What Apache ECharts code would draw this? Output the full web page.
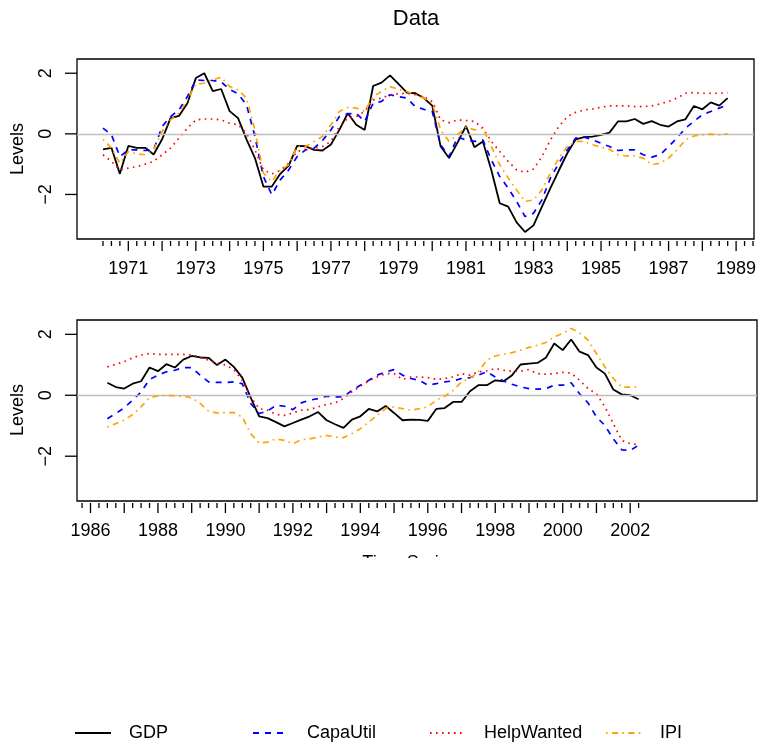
<!DOCTYPE html>
<html>
<head>
<meta charset="utf-8">
<script src="https://cdn.jsdelivr.net/npm/echarts@6/dist/echarts.min.js"></script>
<style>
  html, body { margin: 0; padding: 0; background: #fff; }
  #chart { width: 760px; height: 748px; }
</style>
</head>
<body>
<div id="chart"></div>
<script>
// Quarterly standardized series, two sub-periods
const step = 0.25;
const topStart = 1970.25;     // first quarter of the upper panel
const bottomStart = 1986.5;   // first quarter of the lower panel

const topGDP = [
  -0.51, -0.46, -1.32,
  -0.40, -0.46, -0.46, -0.68,
  -0.18, 0.52, 0.59, 1.01,
  1.84, 2.00, 1.41, 1.48,
  0.75, 0.52, -0.18, -0.80,
  -1.74, -1.74, -1.32, -1.05,
  -0.40, -0.41, -0.53, -0.55,
  -0.35, 0.13, 0.68, 0.30,
  0.13, 1.58, 1.69, 1.93,
  1.65, 1.36, 1.34, 1.18,
  0.93, -0.42, -0.80, -0.29,
  0.26, -0.44, -0.25, -1.19,
  -2.29, -2.40, -2.92, -3.24,
  -3.02, -2.40, -1.79, -1.21,
  -0.64, -0.18, -0.11, -0.09,
  -0.03, 0.04, 0.41, 0.41,
  0.49, 0.33, 0.42, 0.30,
  0.24, 0.41, 0.48, 0.92,
  0.81, 1.04, 0.93, 1.18
];
const topCapaUtil = [
  0.19, -0.03, -0.75,
  -0.53, -0.53, -0.55, -0.53,
  0.24, 0.57, 0.79, 1.23,
  1.78, 1.76, 1.76, 1.72,
  1.47, 1.32, 0.96, -0.09,
  -1.41, -2.01, -1.52, -1.19,
  -0.75, -0.53, -0.47, -0.22,
  0.13, 0.57, 0.66, 0.68,
  0.41, 1.01, 1.07, 1.29,
  1.23, 1.18, 0.90, 0.81,
  0.74, -0.36, -0.75, -0.11,
  -0.20, -0.25, -0.20, -0.86,
  -1.41, -1.79, -2.23, -2.73,
  -2.62, -2.18, -1.46, -0.97,
  -0.53, -0.14, -0.11, -0.20,
  -0.31, -0.42, -0.55, -0.53,
  -0.53, -0.69, -0.77, -0.69,
  -0.42, -0.14, 0.19, 0.41,
  0.63, 0.74, 0.85, 0.96
];
const topHelpWanted = [
  -0.69, -0.91, -1.19,
  -1.13, -1.08, -1.00, -0.91,
  -0.69, -0.47, -0.14, 0.19,
  0.46, 0.49, 0.49, 0.46,
  0.35, 0.30, 0.02, -0.53,
  -1.19, -1.32, -1.21, -0.97,
  -0.58, -0.51, -0.47, -0.42,
  -0.25, 0.24, 0.52, 0.57,
  0.74, 1.12, 1.18, 1.29,
  1.32, 1.34, 1.29, 1.23,
  1.07, 0.46, 0.37, 0.46,
  0.44, 0.41, 0.19, -0.25,
  -0.58, -0.91, -1.19, -1.27,
  -1.16, -0.75, -0.20, 0.24,
  0.57, 0.71, 0.79, 0.82,
  0.88, 0.92, 0.92, 0.92,
  0.90, 0.90, 0.92, 0.99,
  1.07, 1.18, 1.34, 1.36,
  1.34, 1.34, 1.34, 1.36
];
const topIPI = [
  -0.18, -0.47, -0.97,
  -0.58, -0.66, -0.69, -0.53,
  0.08, 0.46, 0.68, 1.12,
  1.65, 1.67, 1.78, 1.87,
  1.56, 1.45, 1.18, 0.13,
  -1.30, -1.57, -1.19, -1.02,
  -0.42, -0.42, -0.25, -0.09,
  0.30, 0.74, 0.87, 0.85,
  0.74, 1.23, 1.40, 1.56,
  1.47, 1.40, 1.29, 1.18,
  1.01, 0.13, -0.25, -0.03,
  0.22, 0.13, 0.19, -0.42,
  -1.02, -1.46, -1.85, -2.23,
  -2.18, -1.85, -1.30, -0.80,
  -0.42, -0.25, -0.25, -0.36,
  -0.44, -0.51, -0.69, -0.73,
  -0.73, -0.80, -1.02, -0.97,
  -0.80, -0.53, -0.20, -0.07,
  -0.03, -0.01, -0.03, 0.00
];

const bottomGDP = [
  0.41, 0.27,
  0.22, 0.38, 0.46, 0.91,
  0.79, 1.02, 0.91, 1.17,
  1.29, 1.24, 1.23, 0.99,
  1.17, 0.93, 0.58, -0.08,
  -0.69, -0.75, -0.88, -1.02,
  -0.91, -0.80, -0.69, -0.55,
  -0.82, -0.95, -1.07, -0.80,
  -0.69, -0.45, -0.53, -0.35,
  -0.58, -0.82, -0.80, -0.81,
  -0.84, -0.45, -0.42, -0.22,
  -0.22, 0.13, 0.33, 0.33,
  0.49, 0.46, 0.66, 1.01,
  1.04, 1.06, 1.23, 1.70,
  1.48, 1.83, 1.43, 1.32,
  0.91, 0.71, 0.19, 0.03,
  0.00, -0.13
];
const bottomCapaUtil = [
  -0.77, -0.60,
  -0.41, -0.16, 0.11, 0.52,
  0.66, 0.77, 0.82, 0.91,
  0.91, 0.66, 0.44, 0.42,
  0.42, 0.44, 0.38, -0.27,
  -0.60, -0.52, -0.33, -0.36,
  -0.47, -0.25, -0.16, -0.11,
  -0.03, -0.05, -0.05, 0.16,
  0.33, 0.49, 0.66, 0.77,
  0.84, 0.66, 0.55, 0.49,
  0.33, 0.38, 0.44, 0.47,
  0.55, 0.58, 0.66, 0.77,
  0.60, 0.47, 0.36, 0.27,
  0.22, 0.20, 0.22, 0.33,
  0.33, 0.41, 0.05, -0.25,
  -0.71, -0.99, -1.43, -1.79,
  -1.81, -1.64
];
const bottomHelpWanted = [
  0.93, 1.02,
  1.10, 1.23, 1.32, 1.37,
  1.34, 1.34, 1.34, 1.34,
  1.32, 1.26, 1.15, 1.06,
  0.99, 0.84, 0.49, -0.05,
  -0.44, -0.49, -0.63, -0.66,
  -0.58, -0.49, -0.47, -0.38,
  -0.30, -0.25, -0.11, 0.11,
  0.30, 0.47, 0.60, 0.71,
  0.71, 0.52, 0.60, 0.60,
  0.58, 0.52, 0.55, 0.60,
  0.71, 0.66, 0.77, 0.80,
  0.88, 0.82, 0.79, 0.79,
  0.84, 0.71, 0.69, 0.71,
  0.75, 0.73, 0.49, 0.22,
  0.05, -0.38, -0.93, -1.48,
  -1.59, -1.62
];
const bottomIPI = [
  -1.04, -0.93,
  -0.82, -0.63, -0.38, -0.08,
  -0.02, 0.00, -0.02, -0.03,
  -0.08, -0.27, -0.52, -0.58,
  -0.57, -0.57, -0.71, -1.26,
  -1.57, -1.54, -1.43, -1.48,
  -1.59, -1.46, -1.43, -1.37,
  -1.32, -1.37, -1.39, -1.26,
  -1.10, -0.88, -0.66, -0.44,
  -0.38, -0.44, -0.49, -0.44,
  -0.38, -0.16, -0.03, 0.16,
  0.44, 0.55, 0.77, 1.15,
  1.29, 1.35, 1.40, 1.48,
  1.57, 1.64, 1.73, 1.92,
  2.03, 2.19, 2.05, 1.81,
  1.37, 0.93, 0.55, 0.27,
  0.27, 0.27
];

// Axis ticks and labels
const topTickSpan = [1970.25, 1989.5];
const bottomTickSpan = [1985.75, 2002.25];
const topYearLabels = ['1971', '1973', '1975', '1977', '1979', '1981', '1983', '1985', '1987', '1989'];
const bottomYearLabels = ['1986', '1988', '1990', '1992', '1994', '1996', '1998', '2000', '2002'];
const yTickValues = [-2, 0, 2];
const yTickLabels = ['\u22122', '0', '2'];

const seriesNames = ['GDP', 'CapaUtil', 'HelpWanted', 'IPI'];
const seriesColors = ['#000000', '#0000FF', '#FF0000', '#FFA500'];
const seriesDashes = ['solid', [6, 6], [1.6, 4.4], [1.6, 4.4, 6, 4.4]];
const seriesWidths = [1.8, 1.7, 1.7, 1.7];

const FONT = '"Liberation Sans", Arial, Helvetica, sans-serif';
const yMin = -3.47, yMax = 2.47;
const panels = [
  { xMin: 1969.48, xMax: 1989.53, start: topStart,
    values: [topGDP, topCapaUtil, topHelpWanted, topIPI],
    tickSpan: topTickSpan, labels: topYearLabels,
    grid: { left: 77, top: 59, width: 677, height: 180 } },
  { xMin: 1985.60, xMax: 2005.76, start: bottomStart,
    values: [bottomGDP, bottomCapaUtil, bottomHelpWanted, bottomIPI],
    tickSpan: bottomTickSpan, labels: bottomYearLabels,
    grid: { left: 77, top: 320, width: 680, height: 181 } }
];

function quarters(span) {
  const out = [];
  for (let t = span[0]; t <= span[1] + 1e-9; t += step) out.push([t]);
  return out;
}
function toPairs(start, vals) {
  return vals.map((v, i) => [start + i * step, v]);
}

const grids = [], xAxes = [], yAxes = [], series = [];
panels.forEach((pn, k) => {
  grids.push(Object.assign({ show: true, borderColor: '#000', borderWidth: 1.3,
    backgroundColor: 'transparent', containLabel: false }, pn.grid));
  xAxes.push({ gridIndex: k, type: 'value', min: pn.xMin, max: pn.xMax, show: false });
  yAxes.push({ gridIndex: k, type: 'value', min: yMin, max: yMax, show: false });

  // reference line at zero
  series.push({
    type: 'line', xAxisIndex: k, yAxisIndex: k, data: [], z: 1, silent: true,
    markLine: { silent: true, symbol: 'none', animation: false,
      label: { show: false },
      lineStyle: { color: '#BEBEBE', type: 'solid', width: 1.3 },
      data: [{ yAxis: 0 }] }
  });

  pn.values.forEach((vals, j) => {
    series.push({
      name: seriesNames[j], type: 'line', xAxisIndex: k, yAxisIndex: k,
      data: toPairs(pn.start, vals), showSymbol: false, symbol: 'none',
      z: 2 + j,
      lineStyle: { color: seriesColors[j], width: seriesWidths[j], type: seriesDashes[j], cap: 'butt' },
      itemStyle: { color: seriesColors[j] }
    });
  });

  // quarterly ticks, longer at whole years
  series.push({
    type: 'custom', xAxisIndex: k, yAxisIndex: k, silent: true, clip: false,
    data: quarters(pn.tickSpan),
    renderItem: function (params, api) {
      const v = api.value(0);
      const p = api.coord([v, yMin]);
      const major = Math.abs(v - Math.round(v)) < 1e-6;
      return { type: 'line',
        shape: { x1: p[0], y1: p[1] + 2, x2: p[0], y2: p[1] + (major ? 12 : 7) },
        style: { stroke: '#000', lineWidth: 1.3 } };
    }
  });
  // year labels
  series.push({
    type: 'custom', xAxisIndex: k, yAxisIndex: k, silent: true, clip: false,
    data: pn.labels.map(s => [Number(s)]),
    renderItem: function (params, api) {
      const v = api.value(0);
      const p = api.coord([v, yMin]);
      return { type: 'text', x: p[0], y: p[1] + 30,
        style: { text: pn.labels[params.dataIndex], fill: '#000', font: '18px ' + FONT,
          align: 'center', verticalAlign: 'middle' } };
    }
  });
  // y ticks and rotated labels
  series.push({
    type: 'custom', xAxisIndex: k, yAxisIndex: k, silent: true, clip: false,
    data: yTickValues.map(v => [v]),
    renderItem: function (params, api) {
      const v = api.value(0);
      const p = api.coord([pn.xMin, v]);
      return { type: 'group', children: [
        { type: 'line', shape: { x1: p[0] - 12, y1: p[1], x2: p[0], y2: p[1] },
          style: { stroke: '#000', lineWidth: 1.3 } },
        { type: 'text', x: p[0] - 31, y: p[1], rotation: Math.PI / 2,
          style: { text: yTickLabels[params.dataIndex], fill: '#000', font: '18px ' + FONT,
            align: 'center', verticalAlign: 'middle' } }
      ] };
    }
  });
});

const legendX = [69, 247, 424, 600];
const legends = seriesNames.map((n, j) => ({
  data: [n], left: legendX[j], top: 719, orient: 'horizontal',
  itemWidth: 36, itemHeight: 16, selectedMode: false,
  itemStyle: { opacity: 0 },
  textStyle: { fontFamily: FONT, fontSize: 18, color: '#000', padding: [0, 0, 0, 13] }
}));

const graphics = [
  { type: 'text', x: 416, y: 19, z: 50,
    style: { text: 'Data', fill: '#000', font: '22px ' + FONT, align: 'center', verticalAlign: 'middle' } },
  { type: 'text', x: 18, y: 149, rotation: Math.PI / 2, z: 50,
    style: { text: 'Levels', fill: '#000', font: '18px ' + FONT, align: 'center', verticalAlign: 'middle' } },
  { type: 'text', x: 18, y: 410, rotation: Math.PI / 2, z: 50,
    style: { text: 'Levels', fill: '#000', font: '18px ' + FONT, align: 'center', verticalAlign: 'middle' } },
  { type: 'text', x: 410, y: 301, z: 50,
    style: { text: 'Time Series', fill: '#000', font: '18px ' + FONT, align: 'center', verticalAlign: 'middle' } },
  { type: 'text', x: 410, y: 563, z: 50,
    style: { text: 'Time Series', fill: '#000', font: '18px ' + FONT, align: 'center', verticalAlign: 'middle' } },
  // each panel's region ends just below its axis labels
  { type: 'rect', shape: { x: 300, y: 292, width: 240, height: 26 }, z: 60,
    style: { fill: '#fff' } },
  { type: 'rect', shape: { x: 300, y: 558, width: 240, height: 60 }, z: 60,
    style: { fill: '#fff' } }
];

const chart = echarts.init(document.getElementById('chart'), null, { renderer: 'canvas' });
chart.setOption({
  animation: false,
  backgroundColor: '#fff',
  grid: grids,
  xAxis: xAxes,
  yAxis: yAxes,
  legend: legends,
  graphic: graphics,
  series: series
});
</script>
</body>
</html>
